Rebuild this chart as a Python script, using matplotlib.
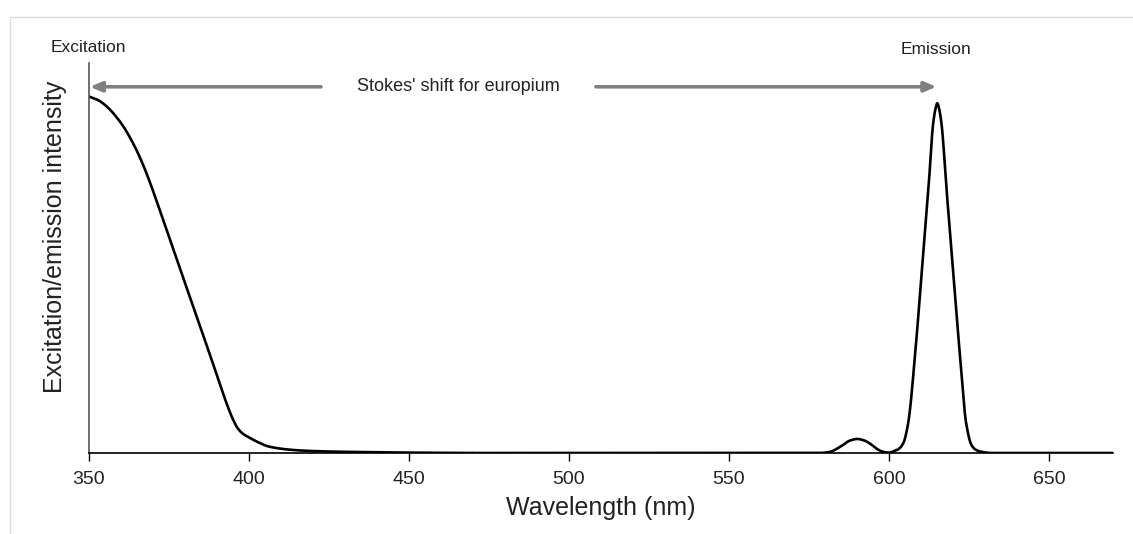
import numpy as np
import matplotlib
matplotlib.use('Agg')
import matplotlib.pyplot as plt
from matplotlib.patches import Rectangle

plt.rcParams['font.family'] = ['Liberation Sans', 'DejaVu Sans']

# excitation curve (nm, relative intensity)
exc_nm = [350, 353, 356, 359, 361, 363, 365, 367, 369, 371, 373, 376, 380, 384, 388, 391,
          393, 395, 396.5, 398, 400, 403, 406, 410, 415, 420, 430, 440, 450, 470]
exc_val = [0.914, 0.904, 0.885, 0.857, 0.834, 0.806, 0.774, 0.737, 0.695, 0.649, 0.602, 0.531,
           0.436, 0.341, 0.247, 0.174, 0.127, 0.086, 0.063, 0.050, 0.040, 0.027, 0.017, 0.011,
           0.007, 0.005, 0.003, 0.002, 0.001, 0.0]

# emission curve
em_nm = [470, 578, 581.6, 583.5, 585.7, 587.8, 590.1, 592.3, 594.6, 596.5, 598.2, 600, 601.3,
         603, 604.5, 606.0, 608.1, 610.2, 612.3, 613.8, 614.6, 615.1, 615.6, 616.4,
         618.0, 620.1, 622.2, 624.1, 625.8, 627.0, 628.4, 632, 670]
em_val = [0.0, 0.0, 0.003, 0.010, 0.021, 0.032, 0.036, 0.032, 0.021, 0.009, 0.003, 0.001, 0.004,
          0.010, 0.026, 0.077, 0.247, 0.461, 0.674, 0.845, 0.885, 0.897, 0.885, 0.845,
          0.674, 0.461, 0.247, 0.077, 0.020, 0.009, 0.004, 0.0, 0.0]

xticks = [350, 400, 450, 500, 550, 600, 650]


def pchip(xs, ys, n=4000):
    # monotone cubic through the read-off points
    x = np.asarray(xs, float)
    y = np.asarray(ys, float)
    h = np.diff(x)
    d = np.diff(y) / h
    m = np.zeros_like(y)
    for k in range(1, len(x) - 1):
        if d[k - 1] * d[k] > 0:
            w1 = 2 * h[k] + h[k - 1]
            w2 = h[k] + 2 * h[k - 1]
            m[k] = (w1 + w2) / (w1 / d[k - 1] + w2 / d[k])
    m[0] = d[0]
    m[-1] = d[-1]
    xx = np.linspace(x[0], x[-1], n)
    idx = np.clip(np.searchsorted(x, xx) - 1, 0, len(x) - 2)
    t = (xx - x[idx]) / h[idx]
    h00 = 2 * t ** 3 - 3 * t ** 2 + 1
    h10 = t ** 3 - 2 * t ** 2 + t
    h01 = -2 * t ** 3 + 3 * t ** 2
    h11 = t ** 3 - t ** 2
    yy = h00 * y[idx] + h10 * h[idx] * m[idx] + h01 * y[idx + 1] + h11 * h[idx] * m[idx + 1]
    return xx, np.maximum(yy, 0)


fig = plt.figure(figsize=(11.33, 5.34), dpi=100)
ax = fig.add_axes([89 / 1133, 81 / 534, 1024 / 1133, 390 / 534])

x1, y1 = pchip(exc_nm, exc_val)
x2, y2 = pchip(em_nm, em_val)
ax.plot(x1, y1, color='black', lw=1.9, solid_capstyle='round')
ax.plot(x2, y2, color='black', lw=1.9, solid_capstyle='round')

ax.set_xlim(350, 670)
ax.set_ylim(0, 1)
ax.set_xticks(xticks)
ax.set_xticklabels([str(t) for t in xticks], fontsize=14, color='#222222')
ax.set_yticks([])
ax.tick_params(axis='x', direction='out', length=6, width=1, pad=7)
ax.spines['top'].set_visible(False)
ax.spines['right'].set_visible(False)
ax.spines['left'].set_color('#555555')
ax.spines['left'].set_linewidth(1.2)
ax.spines['bottom'].set_linewidth(1.2)

ax.set_xlabel('Wavelength (nm)', fontsize=18, color='#222222', labelpad=6)
ax.set_ylabel('Excitation/emission intensity', fontsize=18, color='#222222')
ax.yaxis.set_label_coords(-0.033, 0.554)
ax.yaxis.label.set_va('center')

# Stokes' shift arrows
arrow_kw = dict(arrowstyle='-|>,head_length=0.7,head_width=0.3', color='#808080', lw=2.6,
                shrinkA=0, shrinkB=0)
ax.annotate('', xy=(350.3, 0.939), xytext=(422.5, 0.939), xycoords='data', arrowprops=arrow_kw,
            annotation_clip=False)
ax.annotate('', xy=(614.8, 0.939), xytext=(508.4, 0.939), xycoords='data', arrowprops=arrow_kw,
            annotation_clip=False)
ax.text(465.5, 0.939, "Stokes' shift for europium", fontsize=13, ha='center', va='center',
        color='#222222')

fig.text(51 / 1133, 1 - 47 / 534, 'Excitation', fontsize=12.5, ha='left', va='center', color='#222222')
fig.text(936 / 1133, 1 - 50 / 534, 'Emission', fontsize=12.5, ha='center', va='center', color='#222222')

# light frame around the picture
fig.patches.append(Rectangle((10 / 1133, -0.1), 1.2, 0.1 + (534 - 17) / 534,
                             transform=fig.transFigure, fill=False, edgecolor='#dddddd', lw=1))

fig.savefig('out.png', dpi=100)
